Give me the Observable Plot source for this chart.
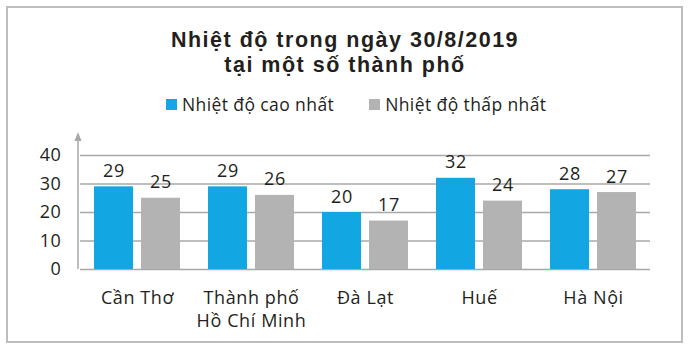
<!DOCTYPE html>
<html><head><meta charset="utf-8">
<script src="https://cdn.jsdelivr.net/npm/d3@7"></script>
<script src="https://cdn.jsdelivr.net/npm/@observablehq/plot@0.6"></script>
<style>
body{margin:0;background:#fff;width:690px;height:357px;position:relative;overflow:hidden;font-family:"Open Sans",sans-serif;color:#231f20}
#frame{position:absolute;left:6px;top:6px;width:677px;height:337px;border:2px solid #bdbdbd;box-sizing:border-box}
#title{position:absolute;left:0;top:28px;width:690px;text-align:center;font:bold 21.5px/25px "Liberation Sans",Arial,sans-serif;letter-spacing:1.5px;color:#231f20}
#legend{position:absolute;top:94px;left:166px;display:flex;align-items:center;font-size:17.5px;line-height:20px;letter-spacing:0.4px}
#legend .item{display:flex;align-items:center;margin-right:35px}
#legend .sw{width:11px;height:11px;margin-right:5px}
#chart{position:absolute;left:0;top:120px}
</style>
</head><body>
<div id="frame"></div>
<div id="title">Nhiệt độ trong ngày 30/8/2019<br>tại một số thành phố</div>
<div id="legend"></div>
<div id="chart"></div>
<script>
const cities = ["Cần Thơ", "Thành phố\nHồ Chí Minh", "Đà Lạt", "Huế", "Hà Nội"];
const series = ["Nhiệt độ cao nhất", "Nhiệt độ thấp nhất"];
const highs = [29, 29, 20, 32, 28];
const lows = [25, 26, 17, 24, 27];
const yTicks = [0, 10, 20, 30, 40];
const colors = ["#12a7e2", "#b3b3b3"];

const data = cities.flatMap((c, i) => [
  {city: c, series: series[0], value: highs[i]},
  {city: c, series: series[1], value: lows[i]}
]);

const legend = document.getElementById("legend");
series.forEach((s, i) => {
  const it = document.createElement("div");
  it.className = "item";
  it.innerHTML = `<span class="sw" style="background:${colors[i]}"></span><span>${s}</span>`;
  legend.appendChild(it);
});

const chart = Plot.plot({
  width: 690,
  height: 215,
  marginLeft: 78,
  marginRight: 38,
  marginTop: 35,
  marginBottom: 66,
  style: {fontFamily: '"Open Sans",sans-serif', fontSize: "18px", letterSpacing: "0.6px", color: "#231f20", background: "transparent", overflow: "visible"},
  fx: {domain: cities, padding: 0, axis: null},
  x: {domain: series, paddingInner: 0.18, paddingOuter: 0.296, axis: null},
  y: {domain: [0, 40], axis: null},
  color: {domain: series, range: colors},
  marks: [
    Plot.gridY(yTicks, {stroke: "#a8a8a8", strokeOpacity: 1, strokeWidth: 1.5}),
    Plot.axisY(yTicks, {tickSize: 0, tickPadding: 19, label: null, fontSize: 18}),
    Plot.barY(data, {fx: "city", x: "series", y: "value", fill: "series"}),
    Plot.text(data, {fx: "city", x: "series", y: "value", text: d => String(d.value), lineAnchor: "bottom", dy: -10, fontSize: 18}),
    Plot.text(cities, {fx: d => d, text: d => d, frameAnchor: "bottom", lineAnchor: "top", dy: 18, lineHeight: 1.28, fontSize: 18})
  ]
});

// y-axis line with arrow, positioned via the plot's own y scale
const ys = chart.scale("y");
const svg = d3.select(chart);
const ax = 78;
const y0 = ys.apply(0);
const yTop = ys.apply(40) - 23;
svg.append("line").attr("x1", ax).attr("x2", ax).attr("y1", y0).attr("y2", yTop + 6)
  .attr("stroke", "#a8a8a8").attr("stroke-width", 1.5);
svg.append("path").attr("d", `M${ax - 3.5},${yTop + 9}L${ax},${yTop}L${ax + 3.5},${yTop + 9}Z`).attr("fill", "#a8a8a8");

document.getElementById("chart").appendChild(chart);
</script>
</body></html>
